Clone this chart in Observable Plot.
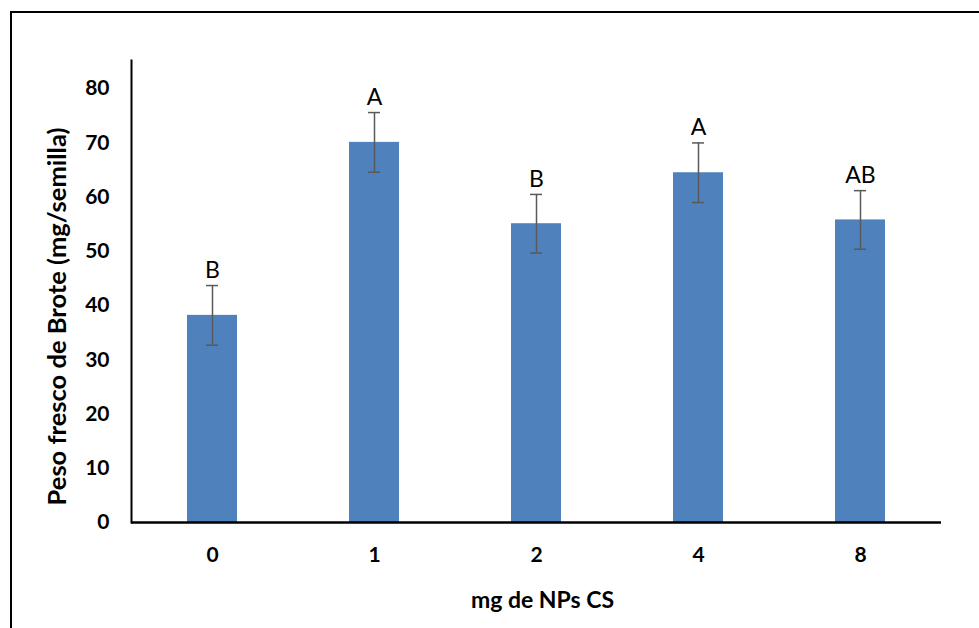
<!DOCTYPE html>
<html>
<head>
<meta charset="utf-8">
<script src="https://cdn.jsdelivr.net/npm/d3@7"></script>
<script src="https://cdn.jsdelivr.net/npm/@observablehq/plot@0.6"></script>
<style>
  html, body { margin: 0; padding: 0; background: #fff; overflow: hidden; }
  #wrap { position: relative; width: 979px; height: 628px; }
  #border { position: absolute; left: 10px; top: 11px; width: 1000px; height: 700px; border: 2px solid #000; box-sizing: border-box; }
  #chart { position: absolute; left: 0; top: 0; }
</style>
</head>
<body>
<div id="wrap"><div id="border"></div><div id="chart"></div></div>
<script>
const categories = ["0", "1", "2", "4", "8"];
const means = [38.2, 70.1, 55.1, 64.5, 55.8];
const errors = [5.5, 5.5, 5.4, 5.5, 5.4];
const letters = ["B", "A", "B", "A", "AB"];
const yTicks = [0, 10, 20, 30, 40, 50, 60, 70, 80];
const xTitle = "mg de NPs CS";
const yTitle = "Peso fresco de Brote (mg/semilla)";

const data = categories.map((c, i) => ({cat: c, mean: means[i], err: errors[i], letter: letters[i]}));
const errColor = "#595959";

const chart = Plot.plot({
  width: 979,
  height: 628,
  marginLeft: 131,
  marginRight: 38,
  marginTop: 60,
  marginBottom: 106,
  style: {fontFamily: "Lato, 'DejaVu Sans', sans-serif", background: "transparent", color: "#000"},
  x: {domain: categories, paddingInner: 0.69, paddingOuter: 0.345, label: null},
  y: {domain: [0, 85.2], label: null},
  marks: [
    Plot.barY(data, {x: "cat", y: "mean", fill: "#4F81BD"}),
    Plot.ruleX(data, {x: "cat", y1: d => d.mean - d.err, y2: d => d.mean + d.err, stroke: errColor, strokeWidth: 1.5}),
    Plot.tickY(data, {x: "cat", y: d => d.mean + d.err, stroke: errColor, strokeWidth: 1.5, insetLeft: 19, insetRight: 19}),
    Plot.tickY(data, {x: "cat", y: d => d.mean - d.err, stroke: errColor, strokeWidth: 1.5, insetLeft: 19, insetRight: 19}),
    Plot.text(data, {x: "cat", y: d => d.mean + d.err, text: "letter", dy: -15, fontSize: 23, fill: "#000"}),
    Plot.ruleY([0], {stroke: "#000", strokeWidth: 2.5}),
    Plot.frame({anchor: "left", stroke: "#000", strokeWidth: 2}),
    Plot.axisX({tickSize: 0, tickPadding: 25, fontSize: 21, fontWeight: "bold", label: null}),
    Plot.axisY({ticks: yTicks, tickSize: 0, tickPadding: 22, fontSize: 21, fontWeight: "bold", label: null}),
    Plot.text([xTitle], {frameAnchor: "bottom", textAnchor: "middle", lineAnchor: "middle", dx: 6, dy: 78, fontSize: 23, fontWeight: "bold", fill: "#000"}),
    Plot.text([yTitle], {frameAnchor: "left", textAnchor: "middle", lineAnchor: "middle", rotate: -90, dx: -74, dy: 25, fontSize: 25.5, fontWeight: "bold", fill: "#000"})
  ]
});
document.getElementById("chart").appendChild(chart);
</script>
</body>
</html>
